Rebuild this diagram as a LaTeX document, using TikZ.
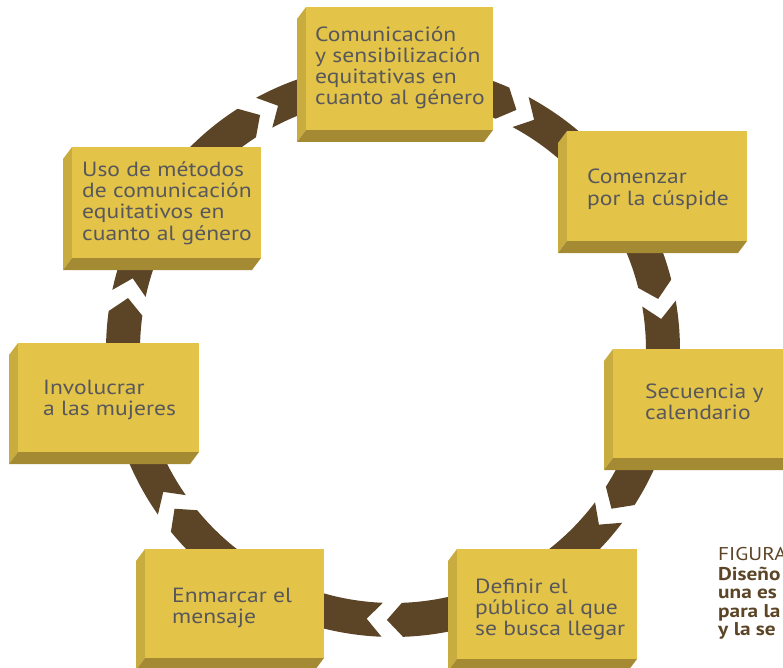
\documentclass[tikz,border=0pt]{standalone}
\usepackage{fontspec}
\setmainfont[FakeStretch=1.15]{PT Sans}
\usetikzlibrary{calc}
\definecolor{ringbrown}{RGB}{92,69,39}
\definecolor{boxfront}{RGB}{227,195,72}
\definecolor{boxleft}{RGB}{201,172,63}
\definecolor{boxbottom}{RGB}{163,138,51}
\definecolor{boxtext}{RGB}{88,88,92}
\definecolor{captext}{RGB}{92,69,39}
\newcommand{\stk}[1]{\vtop{\baselineskip=21pt\lineskiplimit=-10pt\halign{##\hfil\cr#1\crcr}}}
\newcommand{\capstk}[1]{\vtop{\baselineskip=18.5pt\lineskiplimit=-10pt\halign{##\hfil\cr#1\crcr}}}
% ring segment: tail gap angle, head gap angle (math angles, clockwise travel)
\newcommand{\ringseg}[2]{%
  \pgfmathsetmacro{\rsA}{#1+3.3-4.3}%
  \pgfmathsetmacro{\rsB}{#2+3.3}%
  \pgfmathsetmacro{\rsC}{#1-4.3}%
  \fill[ringbrown] plot[domain=\rsA:\rsB, samples=80] ({393+287*cos(\x)},{350-287*sin(\x)})
    -- ({393+270*cos(#2)},{350-270*sin(#2)})
    -- plot[domain=\rsB:\rsA, samples=80] ({393+253*cos(\x)},{350-253*sin(\x)})
    -- ({393+270*cos(\rsC)},{350-270*sin(\rsC)}) -- cycle;
}
% box: name, x1, y1, x2, y2, text x, first baseline y, lines
\newcommand{\gbox}[8]{%
  \fill[boxleft] (#2,#3) -- ({#2-9},{#3+12}) -- ({#2-9},{#5+12}) -- (#2,#5) -- cycle;
  \fill[boxbottom] (#2,#5) -- ({#2-9},{#5+12}) -- ({#4-9},{#5+12}) -- (#4,#5) -- cycle;
  \node[boxface, minimum width={(#4-#2)*1pt}, minimum height={(#5-#3)*1pt}] (#1) at (#2,#3) {};
  \node[boxlabel] (#1-text) at (#6,#7) {\stk{#8}};
}
\tikzset{
  boxface/.style={fill=boxfront, inner sep=0pt, outer sep=0pt, anchor=north west, draw=none},
  boxlabel/.style={anchor=base west, inner sep=0pt, text=boxtext, font=\fontsize{20.5}{21}\selectfont},
  captitle/.style={anchor=base west, inner sep=0pt, text=captext, font=\fontsize{18.5}{18.5}\selectfont},
  capbody/.style={anchor=base west, inner sep=0pt, text=captext, font=\fontsize{18.5}{18.5}\selectfont\bfseries},
}
\begin{document}
\begin{tikzpicture}[x=1pt,y=-1pt]
\useasboundingbox (0,0) rectangle (783,668);
\clip (0,0) rectangle (783,668);
% ring
\ringseg{168.9}{119.5}
\ringseg{119.5}{62.8}
\ringseg{62.8}{10.9}
\ringseg{10.9}{-36}
\ringseg{-36}{-91.3}
\ringseg{-91.3}{-144}
\ringseg{-144}{-191.1}
% boxes
\gbox{comm}{306}{7}{493}{130}{315}{42}{Comunicación\cr y sensibilización\cr equitativas en\cr cuanto al género}
\gbox{cusp}{567}{131}{747}{241}{587}{184}{Comenzar\cr por la cúspide}
\gbox{secu}{613}{349}{800}{458}{645}{398}{Secuencia y\cr calendario}
\gbox{publ}{457}{549}{637}{659}{475}{593}{Definir el\cr público al que\cr se busca llegar}
\gbox{marc}{145}{549}{324}{658}{172}{602}{Enmarcar el\cr mensaje}
\gbox{muje}{18}{343}{199}{452}{43}{394}{Involucrar\cr a las mujeres}
\gbox{meto}{72}{147}{261}{258}{82}{177}{Uso de métodos\cr de comunicación\cr equitativos en\cr cuanto al género}
% caption
\node[captitle] (captitle) at (718,560) {FIGURA};
\node[capbody] (capbody) at (718,580) {\capstk{Diseño\cr una es\cr para la\cr y la se}};
\end{tikzpicture}
\end{document}
